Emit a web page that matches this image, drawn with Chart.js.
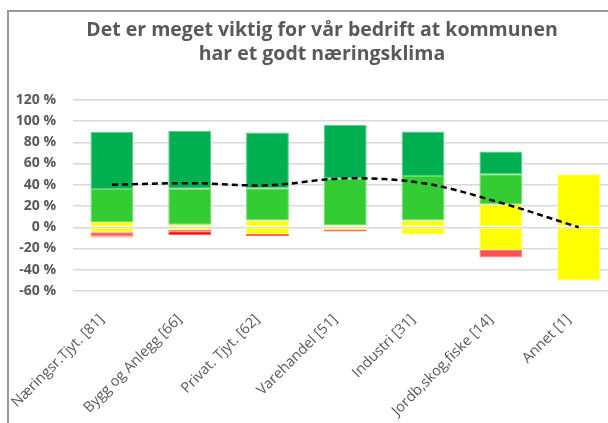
<!DOCTYPE html>
<html>
<head>
<meta charset="utf-8">
<script src="https://cdn.jsdelivr.net/npm/chart.js@4"></script>
<style>
    html, body { margin: 0; padding: 0; background: #fff; overflow: hidden; }
    #wrap { width: 608px; height: 423px; overflow: hidden; position: relative; }
    #box { width: 644px; height: 423px; position: absolute; left: 0; top: 0; }
</style>
</head>
<body>
<div id="wrap"><div id="box"><canvas id="likertChart"></canvas></div></div>
<script>
const categories = ["Næringsr.Tjyt. [81]", "Bygg og Anlegg [66]", "Privat. Tjyt. [62]", "Varehandel [51]", "Industri [31]", "Jordb,skog,fiske [14]", "Annet [1]"];

// Nøytral is split in half around zero
const noytralPos = [5, 2.3, 6.3, 1.6, 6.3, 21.4, 50];
const enig = [31, 34, 30.5, 44.4, 42, 28.6, 0];
const heltEnig = [54, 54.5, 52.4, 50.5, 41.9, 21.4, 0];
const noytralNeg = [-4.8, -2.3, -6.3, -2, -6.8, -21.4, -50];
const uenig = [-3.8, -1.5, 0, 0, 0, -7.1, 0];
const heltUenig = [-1, -3.8, -2.2, -2, 0, 0, 0];

// Snittscore (dashed line)
const snitt = [40, 41.5, 39.5, 46, 41.5, 23, 0];

const yTicks = [-60, -40, -20, 0, 20, 40, 60, 80, 100, 120];

const grey = "#595959";

/*
 * Frame of the Excel chart object */
const framePlugin = {
    id: "frame",
    beforeDraw(chart) {
        const c = chart.ctx;
        c.save();
        c.strokeStyle = "#9a9a9a";
        c.lineWidth = 2;
        c.beginPath();
        c.moveTo(8, 430);
        c.lineTo(8, 11);
        c.lineTo(chart.width, 11);
        c.stroke();
        c.restore();
    },
};

const bar = (label, data, color, border) => ({
    type: "bar",
    label,
    data,
    backgroundColor: color,
    borderColor: border,
    borderWidth: 1,
    borderSkipped: false,
    stack: "likert",
    order: 1,
    categoryPercentage: 1,
    barPercentage: 0.55,
});

const ctx = document.getElementById("likertChart");

new Chart(ctx, {
    data: {
        labels: categories,
        datasets: [
            bar("Nøytral", noytralPos, "#ffff00", "#ffff66"),
            bar("Enig", enig, "#33cc33", "#66dd66"),
            bar("Helt enig", heltEnig, "#00b050", "#55cc88"),
            bar("Nøytral ", noytralNeg, "#ffff00", "#ffff66"),
            bar("Uenig", uenig, "#ff5050", "#ff8080"),
            bar("Helt uenig", heltUenig, "#ff0000", "#ff6060"),
            {
                type: "line",
                label: "Snitt",
                data: snitt,
                borderColor: "#000",
                borderWidth: 2.5,
                borderDash: [6, 4],
                pointRadius: 0,
                tension: 0.35,
                fill: false,
                stack: "line",
                order: 0,
            },
        ],
    },
    options: {
        responsive: true,
        maintainAspectRatio: false,
        animation: false,
        layout: { padding: { top: 18, left: 0, right: 0, bottom: 0 } },
        plugins: {
            legend: { display: false },
            tooltip: { enabled: false },
            title: {
                display: true,
                text: ["Det er meget viktig for vår bedrift at kommunen", "har et godt næringsklima"],
                color: grey,
                font: { family: "Open Sans", size: 19.5, weight: "bold", lineHeight: 1.25 },
                padding: { top: 0, bottom: 33 },
            },
        },
        scales: {
            x: {
                stacked: true,
                grid: { display: false },
                border: { display: false },
                ticks: {
                    color: grey,
                    font: { family: "Open Sans", size: 14.5 },
                    minRotation: 45,
                    maxRotation: 45,
                    autoSkip: false,
                    padding: 12,
                    labelOffset: -10,
                },
                afterFit(s) { s.height = 132; },
            },
            y: {
                stacked: true,
                min: -60,
                max: 120,
                afterBuildTicks(s) { s.ticks = yTicks.map((v) => ({ value: v })); },
                grid: { color: "#d9d9d9", lineWidth: 1.5, drawTicks: false },
                border: { display: false },
                ticks: {
                    color: grey,
                    font: { family: "Open Sans", size: 14, weight: "bold" },
                    padding: 17,
                    callback: (v) => v + " %",
                },
                afterFit(s) { s.width = 73; },
            },
            yR: {
                position: "right",
                display: true,
                grid: { display: false },
                border: { display: false },
                ticks: { display: false },
                afterFit(s) { s.width = 26.5; },
            },
        },
    },
    plugins: [framePlugin],
});
</script>
</body>
</html>
